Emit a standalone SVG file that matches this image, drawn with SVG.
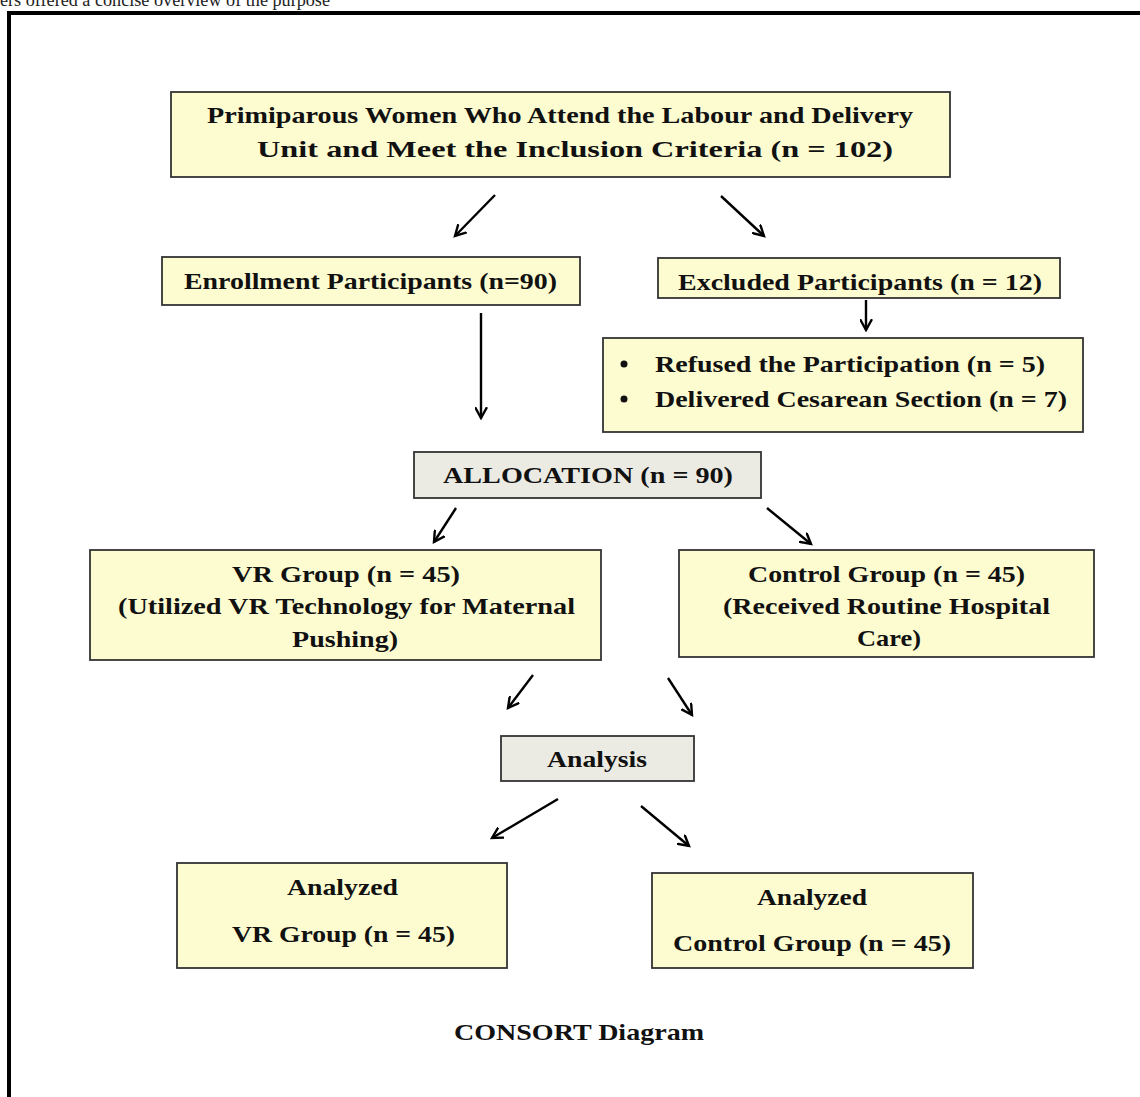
<svg xmlns="http://www.w3.org/2000/svg" width="1140" height="1097" viewBox="0 0 1140 1097">
<defs>
<marker id="ah" viewBox="0 0 12 12" refX="10" refY="6" markerWidth="13" markerHeight="13" markerUnits="userSpaceOnUse" orient="auto">
<polyline points="0,0.5 10,6 0,11.5" fill="none" stroke="#000" stroke-width="2.2"/>
</marker>
<style>
.bx{fill:#fdfcd0;stroke:#333;stroke-width:1.8}
.gx{fill:#ecebe3;stroke:#333;stroke-width:1.8}
.t{font-family:"Liberation Serif","Times New Roman",serif;font-weight:bold;font-size:24px;fill:#111;text-anchor:start;dominant-baseline:central}
.c{stroke:#000;stroke-width:2.4;fill:none;marker-end:url(#ah)}
</style>
</defs>
<rect width="1140" height="1097" fill="#fff"/>
<text x="0" y="6" font-family="Liberation Serif, serif" font-size="18" fill="#222" textLength="330" lengthAdjust="spacingAndGlyphs">ers offered a concise overview of the purpose</text>
<path d="M9,1097 V13 H1140" fill="none" stroke="#000" stroke-width="4"/>

<g id="n-primiparous">
<rect class="bx" x="171" y="92" width="779" height="85"/>
<text class="t" x="207" y="115" textLength="706" lengthAdjust="spacingAndGlyphs">Primiparous Women Who Attend the Labour and Delivery</text>
<text class="t" x="257" y="149" textLength="636" lengthAdjust="spacingAndGlyphs">Unit and Meet the Inclusion Criteria (n = 102)</text>
</g>
<g id="n-enrollment">
<rect class="bx" x="162" y="257" width="418" height="48"/>
<text class="t" x="184" y="281" textLength="373" lengthAdjust="spacingAndGlyphs">Enrollment Participants (n=90)</text>
</g>
<g id="n-excluded">
<rect class="bx" x="658" y="258" width="402" height="40"/>
<text class="t" x="678" y="282" textLength="364" lengthAdjust="spacingAndGlyphs">Excluded Participants (n = 12)</text>
</g>
<g id="n-reasons">
<rect class="bx" x="603" y="338" width="480" height="94"/>
<circle cx="624" cy="364" r="3.5" fill="#111"/>
<circle cx="624" cy="399" r="3.5" fill="#111"/>
<text class="t" x="655" y="364" textLength="390" lengthAdjust="spacingAndGlyphs">Refused the Participation (n = 5)</text>
<text class="t" x="655" y="399" textLength="412" lengthAdjust="spacingAndGlyphs">Delivered Cesarean Section (n = 7)</text>
</g>
<g id="n-allocation">
<rect class="gx" x="414" y="452" width="347" height="46"/>
<text class="t" x="443" y="475" textLength="290" lengthAdjust="spacingAndGlyphs">ALLOCATION (n = 90)</text>
</g>
<g id="n-vr">
<rect class="bx" x="90" y="550" width="511" height="110"/>
<text class="t" x="232" y="574" textLength="228" lengthAdjust="spacingAndGlyphs">VR Group (n = 45)</text>
<text class="t" x="118" y="606" textLength="457" lengthAdjust="spacingAndGlyphs">(Utilized VR Technology for Maternal</text>
<text class="t" x="292" y="639" textLength="106" lengthAdjust="spacingAndGlyphs">Pushing)</text>
</g>
<g id="n-control">
<rect class="bx" x="679" y="550" width="415" height="107"/>
<text class="t" x="748" y="574" textLength="277" lengthAdjust="spacingAndGlyphs">Control Group (n = 45)</text>
<text class="t" x="723" y="606" textLength="327" lengthAdjust="spacingAndGlyphs">(Received Routine Hospital</text>
<text class="t" x="857" y="638" textLength="64" lengthAdjust="spacingAndGlyphs">Care)</text>
</g>
<g id="n-analysis">
<rect class="gx" x="501" y="736" width="193" height="45"/>
<text class="t" x="547" y="759" textLength="100" lengthAdjust="spacingAndGlyphs">Analysis</text>
</g>
<g id="n-analyzed-vr">
<rect class="bx" x="177" y="863" width="330" height="105"/>
<text class="t" x="287" y="887" textLength="111" lengthAdjust="spacingAndGlyphs">Analyzed</text>
<text class="t" x="232" y="934" textLength="223" lengthAdjust="spacingAndGlyphs">VR Group (n = 45)</text>
</g>
<g id="n-analyzed-control">
<rect class="bx" x="652" y="873" width="321" height="95"/>
<text class="t" x="757" y="897" textLength="110" lengthAdjust="spacingAndGlyphs">Analyzed</text>
<text class="t" x="673" y="943" textLength="278" lengthAdjust="spacingAndGlyphs">Control Group (n = 45)</text>
</g>
<g id="caption">
<text class="t" x="454" y="1032" textLength="250" lengthAdjust="spacingAndGlyphs">CONSORT Diagram</text>
</g>

<g id="connectors">
<line class="c" x1="495" y1="195" x2="455" y2="236"/>
<line class="c" x1="721" y1="196" x2="764" y2="236"/>
<line class="c" x1="866" y1="300" x2="866" y2="330"/>
<line class="c" x1="481" y1="313" x2="481" y2="418"/>
<line class="c" x1="456" y1="508" x2="434" y2="542"/>
<line class="c" x1="767" y1="508" x2="811" y2="544"/>
<line class="c" x1="533" y1="675" x2="508" y2="708"/>
<line class="c" x1="668" y1="678" x2="692" y2="715"/>
<line class="c" x1="558" y1="799" x2="492" y2="838"/>
<line class="c" x1="641" y1="806" x2="689" y2="846"/>
</g>
</svg>
